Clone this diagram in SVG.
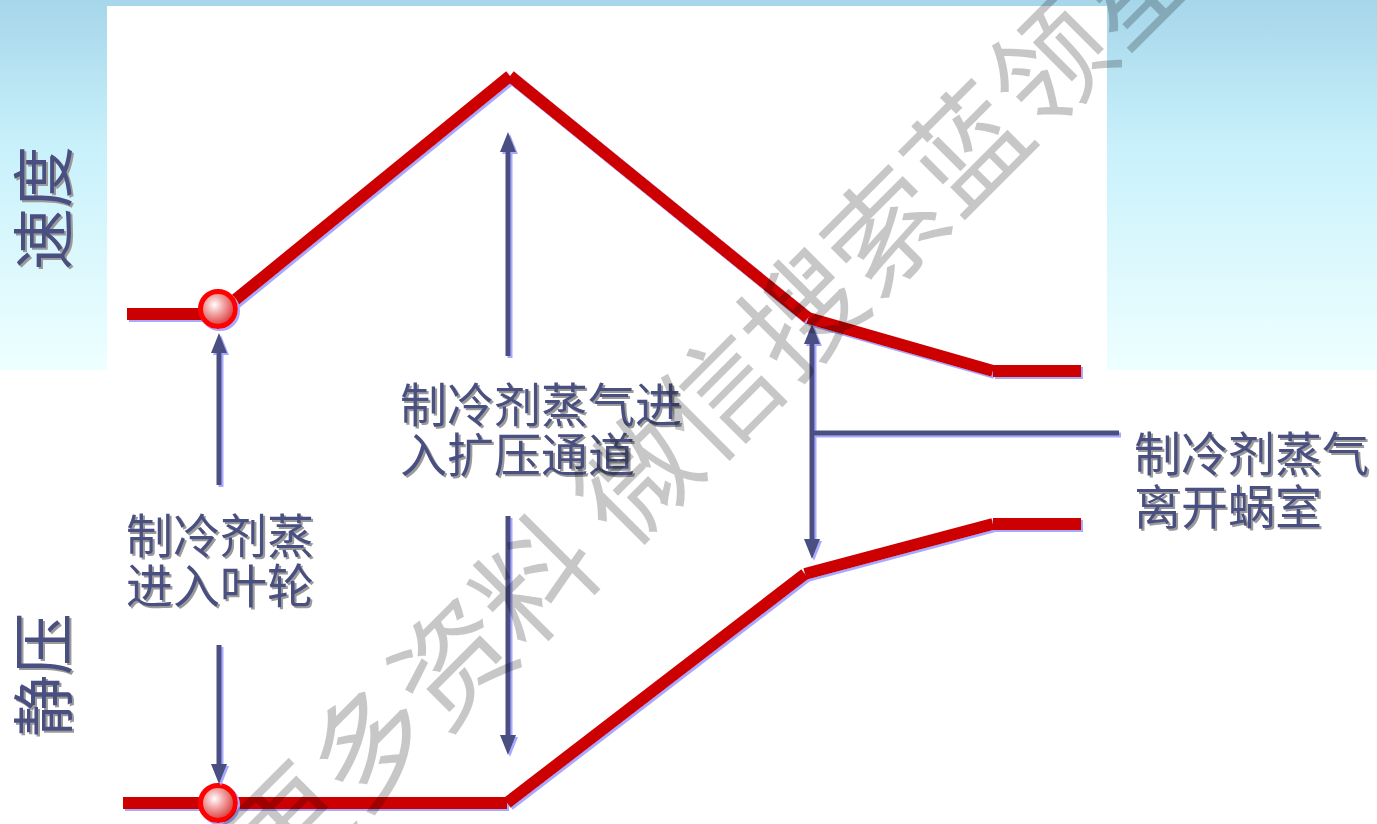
<svg xmlns="http://www.w3.org/2000/svg" width="1377" height="824" viewBox="0 0 1377 824">
<defs>
<linearGradient id="bg" x1="0" y1="0" x2="0" y2="1">
<stop offset="0" stop-color="#a6d6ea"/>
<stop offset="0.4" stop-color="#c9f1fb"/>
<stop offset="1" stop-color="#eeffff"/>
</linearGradient>
<radialGradient id="ball" cx="0.4" cy="0.38" r="0.65">
<stop offset="0" stop-color="#ffffff"/>
<stop offset="0.35" stop-color="#f4b0b0"/>
<stop offset="1" stop-color="#d83030"/>
</radialGradient>
<filter id="lav" x="-20%" y="-20%" width="140%" height="140%">
<feDropShadow dx="2" dy="2" stdDeviation="0.3" flood-color="#a8a8ff" flood-opacity="1"/>
</filter>
<filter id="tsh" x="-10%" y="-10%" width="120%" height="130%">
<feDropShadow dx="2" dy="2" stdDeviation="0.6" flood-color="#9a9a9a" flood-opacity="1"/>
</filter>
<marker id="ah" markerUnits="userSpaceOnUse" viewBox="0 0 20 16" markerWidth="20" markerHeight="16" refX="10" refY="8" orient="auto-start-reverse">
<path d="M0,0 L20,8 L0,16 z" fill="#4a5080"/>
</marker>
</defs>
<style>
.red{stroke:#cc0000;stroke-width:12;fill:none;stroke-linecap:butt}
.arr{stroke:#4a5080;stroke-width:5;fill:none}
.lbl{font-family:"Noto Sans CJK SC","Noto Sans CJK JP",sans-serif;font-size:47px;fill:#4a5080}
.side{font-family:"Noto Sans CJK SC","Noto Sans CJK JP",sans-serif;font-size:62px;fill:#4a5080}
.wm{font-family:"Noto Sans CJK SC","Noto Sans CJK JP",sans-serif;font-size:117px;fill:#000;fill-opacity:0.22}
</style>
<rect x="0" y="0" width="1377" height="824" fill="#ffffff"/>
<rect x="0" y="0" width="1377" height="370" fill="url(#bg)"/>
<rect x="107" y="6" width="1000" height="364" fill="#ffffff"/>

<g id="velocity-curve" filter="url(#lav)">
<line class="red" x1="127" y1="314" x2="221" y2="314"/>
<line class="red" x1="218" y1="314" x2="510" y2="76"/>
<line class="red" x1="510" y1="76" x2="808" y2="318"/>
<line class="red" x1="808" y1="318" x2="993" y2="371"/>
<line class="red" x1="993" y1="371" x2="1081" y2="371"/>
</g>
<g id="pressure-curve" filter="url(#lav)">
<line class="red" x1="123" y1="803" x2="507" y2="803"/>
<line class="red" x1="507" y1="803" x2="805" y2="574"/>
<line class="red" x1="805" y1="574" x2="993" y2="524"/>
<line class="red" x1="993" y1="524" x2="1081" y2="524"/>
</g>
<g id="inlet-points" filter="url(#lav)">
<circle cx="218" cy="309" r="17.5" fill="url(#ball)" stroke="#ff0000" stroke-width="5"/>
<circle cx="218" cy="803" r="17.5" fill="url(#ball)" stroke="#ff0000" stroke-width="5"/>
</g>

<g id="connectors" filter="url(#lav)">
<line class="arr" x1="219" y1="485" x2="219" y2="343" marker-end="url(#ah)"/>
<line class="arr" x1="219" y1="645" x2="219" y2="774" marker-end="url(#ah)"/>
<line class="arr" x1="508" y1="356" x2="508" y2="142" marker-end="url(#ah)"/>
<line class="arr" x1="508" y1="516" x2="508" y2="745" marker-end="url(#ah)"/>
<line class="arr" x1="812" y1="334" x2="812" y2="549" marker-start="url(#ah)" marker-end="url(#ah)"/>
<line class="arr" x1="812" y1="433" x2="1119" y2="433"/>
</g>

<g id="label-velocity" filter="url(#tsh)">
<text class="side" transform="translate(67,208) rotate(-90)" text-anchor="middle">速度</text>
</g>
<g id="label-pressure" filter="url(#tsh)">
<text class="side" transform="translate(67,675) rotate(-90)" text-anchor="middle">静压</text>
</g>
<g id="label-inlet" filter="url(#tsh)">
<text class="lbl" x="126" y="553">制冷剂蒸</text>
<text class="lbl" x="126" y="603">进入叶轮</text>
</g>
<g id="label-diffuser" filter="url(#tsh)">
<text class="lbl" x="400" y="422">制冷剂蒸气进</text>
<text class="lbl" x="400" y="472">入扩压通道</text>
</g>
<g id="label-outlet" filter="url(#tsh)">
<text class="lbl" x="1134" y="471">制冷剂蒸气</text>
<text class="lbl" x="1134" y="524">离开蜗室</text>
</g>

<g id="watermark">
<text class="wm" transform="rotate(-45)" x="-441" y="832" xml:space="preserve">更多资料 微信搜索蓝领星球</text>
</g>
</svg>
